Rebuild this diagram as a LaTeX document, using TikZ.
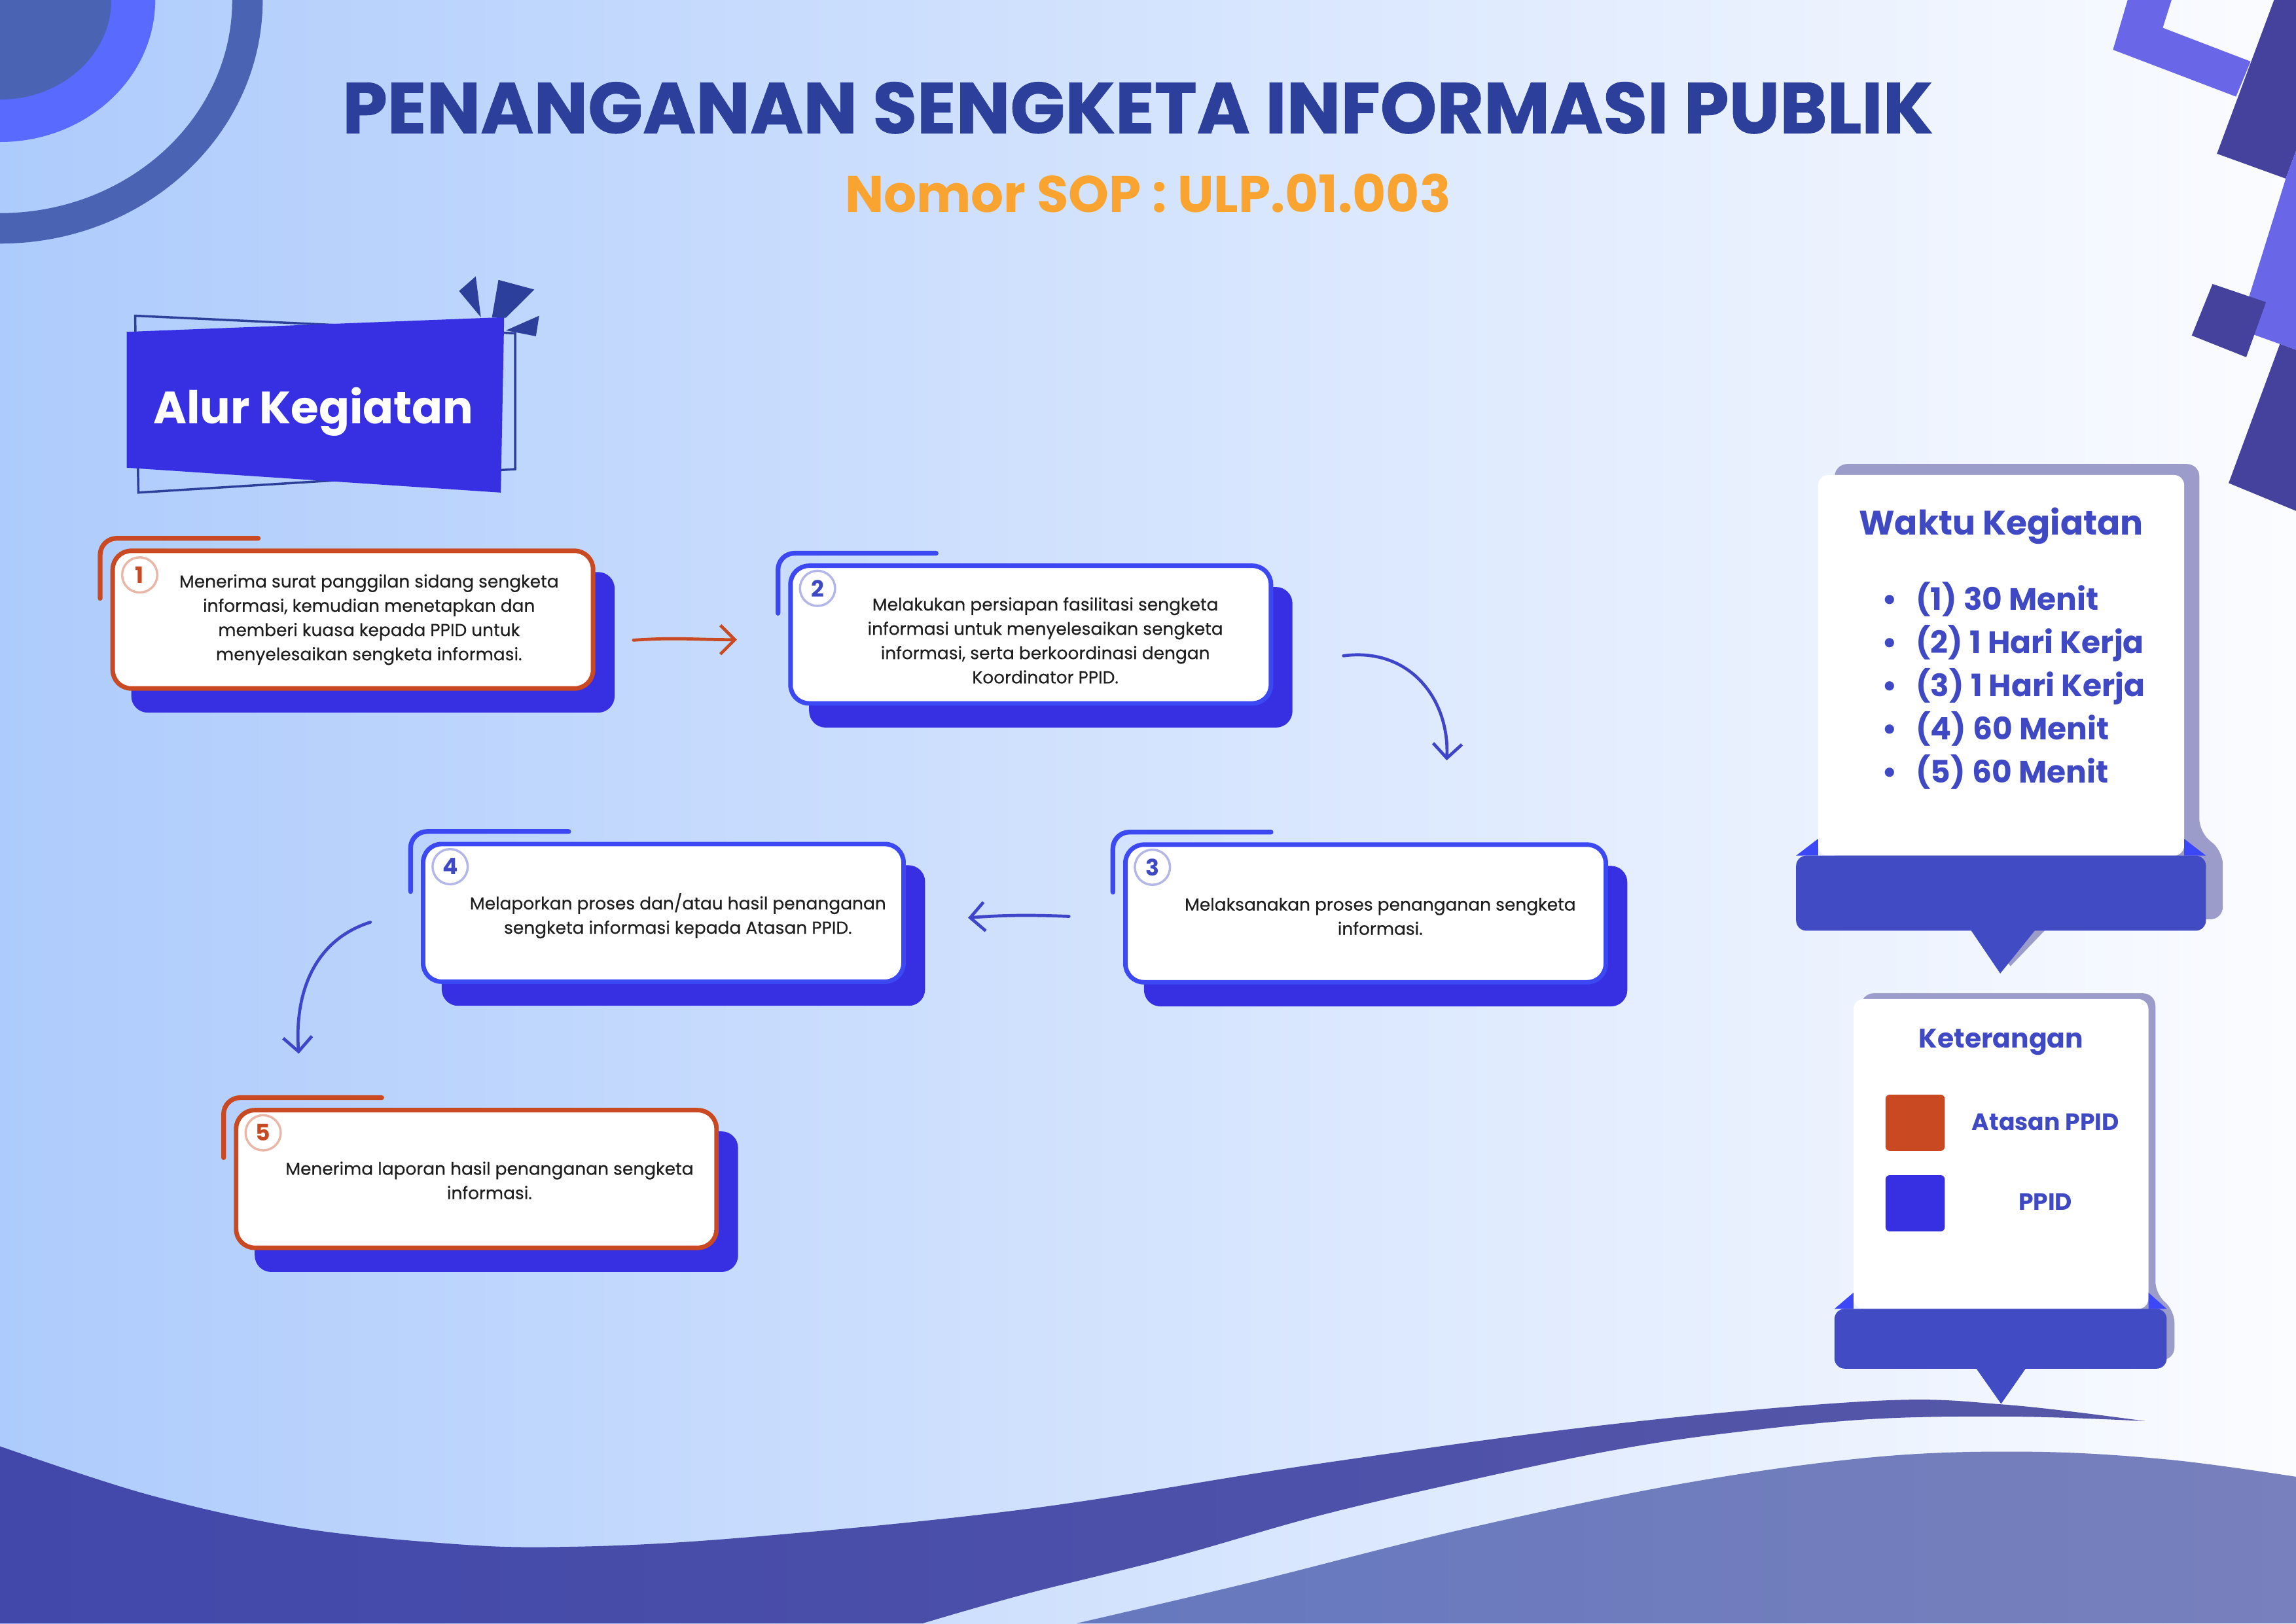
\documentclass[tikz,border=0pt]{standalone}
\usepackage{fontspec}
\setmainfont{Poppins}
\newfontfamily\heavyfont{Poppins}[BoldFeatures={FakeBold=0.8}]
\newfontfamily\stepfont{Poppins}[FakeBold=0.35]
\usetikzlibrary{arrows.meta,positioning,calc,shapes.geometric}
\definecolor{bgleft}{HTML}{ADCBFC}
\definecolor{bgmid}{HTML}{C8DCFC}
\definecolor{bgright}{HTML}{FBFCFF}
\definecolor{titleblue}{HTML}{2B3F9B}
\definecolor{soporange}{HTML}{F9A430}
\definecolor{ppidblue}{HTML}{3730E3}
\definecolor{cardblue}{HTML}{3C48F2}
\definecolor{atasanorange}{HTML}{C94A22}
\definecolor{arrowblue}{HTML}{3F45C8}
\definecolor{panelblue}{HTML}{414BC4}
\definecolor{panelbright}{HTML}{3C48F8}
\definecolor{panelgray}{HTML}{9C9CCB}
\definecolor{panelink}{HTML}{4049C4}
\definecolor{inkdark}{HTML}{1E1E1E}
\definecolor{cornerdark}{HTML}{4A63B3}
\definecolor{cornerbright}{HTML}{586AFF}
\definecolor{decodark}{HTML}{45429E}
\definecolor{decolight}{HTML}{6A66E8}
\definecolor{waveAL}{HTML}{4148AA}
\definecolor{waveAR}{HTML}{5657A8}
\definecolor{waveBL}{HTML}{6678BE}
\definecolor{waveBR}{HTML}{7880BD}

\tikzset{
  stepcard/.style={draw=#1,fill=white,line width=2.2pt,rounded corners=9pt,minimum width=8.2cm,minimum height=2.35cm,inner sep=0pt},
  stepshadow/.style={fill=ppidblue,rounded corners=8pt,minimum width=8.25cm,minimum height=2.4cm,inner sep=0pt},
  steptext/.style={align=center,text=inkdark,font=\stepfont\fontsize{8.4}{11.8}\selectfont},
  stepnum/.style={circle,draw=#1!40,line width=1.1pt,text=#1,minimum size=0.6cm,inner sep=0pt,font=\bfseries\fontsize{11}{11}\selectfont},
  cornerline/.style={line width=2.3pt,line cap=round,rounded corners=8pt},
  flowarrow/.style={line width=1.5pt,line cap=round,-{Straight Barb[length=7pt,width=14pt]}},
  panelcard/.style={fill=white,rounded corners=5pt,inner sep=0pt},
  legendkey/.style={rounded corners=2pt,minimum width=1.01cm,minimum height=0.96cm,inner sep=0pt},
  paneltext/.style={text=panelink,anchor=base},
}

\begin{document}
\begin{tikzpicture}[x=0.025cm,y=-0.025cm]
  \clip (0,0) rectangle (1568,1109);
  % background
  \shade[left color=bgleft,middle color=bgmid,right color=bgright] (0,0) rectangle (1568,1109);

  % corner decorations
  \fill[cornerbright] (0,0) ellipse [x radius=106,y radius=97];
  \fill[cornerdark] (0,0) ellipse [x radius=76,y radius=68];
  \draw[cornerdark,line width=0.52cm] (0,0) ellipse [x radius=169,y radius=156];
  \fill[decolight] (1443,34) -- (1453,0) -- (1483,0) -- (1477,19) -- (1537,42) -- (1527,66) -- cycle;
  \fill[decodark] (1553,0) -- (1568,0) -- (1568,103) -- (1561,122) -- (1514,105) -- cycle;
  \fill[decolight] (1561,122) -- (1568,103) -- (1568,239) -- (1557,235) -- (1529,225) -- cycle;
  \fill[decodark] (1511,194) -- (1547.5,206.4) -- (1534,244) -- (1496.8,229.2) -- cycle;
  \fill[decodark] (1557,235) -- (1568,239) -- (1568,349) -- (1522,330) -- cycle;

  % waves
  \shade[left color=waveAL,right color=waveAR] (0,1109) -- plot[smooth,tension=0.6] coordinates {(0,988) (100,1020.7) (200,1043) (300,1054) (380,1056.8) (500,1051) (700,1031) (900,1000) (1100,973) (1280,957) (1370,959.6) (1465,970.8)}
    -- plot[smooth,tension=0.6] coordinates {(1465,970.8) (1380,967.8) (1280,969.3) (1180,979) (1100,991) (1000,1012) (900,1035.6) (800,1064) (700,1089) (630,1109)} -- cycle;
  \shade[left color=waveBL,right color=waveBR] (735,1109) -- plot[smooth,tension=0.6] coordinates {(735,1109) (850,1082) (1000,1044.5) (1150,1013.3) (1280,995.4) (1385,991.7) (1480,997) (1568,1008.8)} -- (1568,1109) -- cycle;

  % title
  \node[anchor=base,text=titleblue,font=\heavyfont\bfseries\fontsize{35}{35}\selectfont] (title) at (777,91) {PENANGANAN SENGKETA INFORMASI PUBLIK};
  \node[anchor=base,text=soporange,font=\bfseries\fontsize{25}{25}\selectfont] (sop) at (784,145) {Nomor SOP : ULP.01.003};

  % banner
  \draw[titleblue,line width=1.1pt] (92.3,215.7) -- (351.8,227.7) -- (351.8,320.5) -- (94.5,336.5) -- cycle;
  \fill[ppidblue] (86.5,226.7) -- (344.3,216.7) -- (342,336.5) -- (86.5,319.5) -- cycle;
  \fill[titleblue] (313.5,198.8) -- (324.9,188.8) -- (328.4,216.7) -- cycle;
  \fill[titleblue] (340.4,191.2) -- (364.9,197.8) -- (345.5,217.1) -- (336,216.7) -- cycle;
  \fill[titleblue] (345.5,225.7) -- (368.2,215.7) -- (366,229.7) -- cycle;
  \node[anchor=base,text=white,font=\bfseries\fontsize{22}{22}\selectfont] (alur) at (214,289.6) {Alur Kegiatan};

  % step shadows
  \node[stepshadow] (s1sh) at (254.7,438.8) {};
  \node[stepshadow] (s2sh) at (717.6,449) {};
  \node[stepshadow] (s3sh) at (946.3,639.5) {};
  \node[stepshadow] (s4sh) at (466.7,639.1) {};
  \node[stepshadow] (s5sh) at (339,820.9) {};

  % step cards
  \node[stepcard=atasanorange] (s1) at (241,423.3) {};
  \node[stepcard=cardblue] (s2) at (703.9,433.5) {};
  \node[stepcard=cardblue] (s3) at (932.6,624) {};
  \node[stepcard=cardblue] (s4) at (453,623.6) {};
  \node[stepcard=atasanorange] (s5) at (325.3,805.4) {};

  \draw[cornerline,atasanorange] ($(s1.north west)+(-7,34)$) |- ($(s1.north west)+(101,-7)$);
  \draw[cornerline,cardblue] ($(s2.north west)+(-7,34)$) |- ($(s2.north west)+(101,-7)$);
  \draw[cornerline,cardblue] ($(s3.north west)+(-7,34)$) |- ($(s3.north west)+(101,-7)$);
  \draw[cornerline,cardblue] ($(s4.north west)+(-7,34)$) |- ($(s4.north west)+(101,-7)$);
  \draw[cornerline,atasanorange] ($(s5.north west)+(-7,34)$) |- ($(s5.north west)+(101,-7)$);

  \node[stepnum=atasanorange] (n1) at ($(s1.north west)+(20,18)$) {1};
  \node[stepnum=panelink] (n2) at ($(s2.north west)+(20,17)$) {2};
  \node[stepnum=panelink] (n3) at ($(s3.north west)+(20,17)$) {3};
  \node[stepnum=panelink] (n4) at ($(s4.north west)+(20,17)$) {4};
  \node[stepnum=atasanorange] (n5) at ($(s5.north west)+(20,17)$) {5};

  \node[steptext] (t1) at ($(s1.center)+(11,0)$) {Menerima surat panggilan sidang sengketa\\informasi, kemudian menetapkan dan\\memberi kuasa kepada PPID untuk\\menyelesaikan sengketa informasi.};
  \node[steptext] (t2) at ($(s2.center)+(10,4)$) {Melakukan persiapan fasilitasi sengketa\\informasi untuk menyelesaikan sengketa\\informasi, serta berkoordinasi dengan\\Koordinator PPID.};
  \node[steptext] (t3) at ($(s3.center)+(10,2)$) {Melaksanakan proses penanganan sengketa\\informasi.};
  \node[steptext] (t4) at ($(s4.center)+(10,2)$) {Melaporkan proses dan/atau hasil penanganan\\sengketa informasi kepada Atasan PPID.};
  \node[steptext] (t5) at ($(s5.center)+(9,1)$) {Menerima laporan hasil penanganan sengketa\\informasi.};

  % arrows
  \coordinate (a1s) at ($(s1.east)+(26,14)$);
  \coordinate (a1e) at ($(s2.west)+(-35,3.5)$);
  \coordinate (a2s) at ($(s2.east)+(48,14.5)$);
  \coordinate (a2e) at ($(s3.north)+(55.4,-56)$);
  \coordinate (a3s) at ($(s3.west)+(-37,2)$);
  \coordinate (a3e) at ($(s4.east)+(42.5,3.4)$);
  \coordinate (a4s) at ($(s4.west)+(-34.5,6.4)$);
  \coordinate (a4e) at ($(s5.north)+(-121.3,-37)$);
  \draw[flowarrow,atasanorange] (a1s) .. controls +(30,-2) and +(-30,0) .. (a1e);
  \draw[flowarrow,arrowblue] (a2s) .. controls +(45,-6) and +(2,-42) .. (a2e);
  \draw[flowarrow,arrowblue] (a3s) .. controls +(-25,-1) and +(25,-2) .. (a3e);
  \draw[flowarrow,arrowblue] (a4s) .. controls +(-38,12) and +(-3,-42) .. (a4e);

  % waktu kegiatan panel
  \fill[panelgray,rounded corners=6pt] (1253,317) -- (1502,317) -- (1502,568) -- (1518,582) -- (1518,628) -- (1253,628) -- cycle;
  \fill[panelgray] (1352,634) -- (1398,634) -- (1373,660) -- cycle;
  \node[panelcard,minimum width=6.25cm,minimum height=6.5cm] (wk) at (1366.6,454.5) {};
  \fill[panelbright] (1226.6,584.5) -- (1241.6,573) -- (1241.6,584.5) -- cycle;
  \fill[panelbright] (1491.6,573) -- (1506.5,584.5) -- (1491.6,584.5) -- cycle;
  \fill[panelblue,rounded corners=5pt] (1226.6,584.5) rectangle (1506.5,635.8);
  \fill[panelblue] (1345,634) -- (1391,634) -- (1366,665) -- cycle;
  \node[paneltext,font=\bfseries\fontsize{16.5}{16.5}\selectfont] (wkt) at (1366.6,365.6) {Waktu Kegiatan};
  \node[paneltext,anchor=base west,font=\bfseries\fontsize{15}{21}\selectfont,inner sep=0pt] (wkl) at (1285,416.9) {%
    \begin{tabular}[t]{@{}l@{\hspace{9pt}}l@{}}
      • & (1) 30 Menit\\
      • & (2) 1 Hari Kerja\\
      • & (3) 1 Hari Kerja\\
      • & (4) 60 Menit\\
      • & (5) 60 Menit
    \end{tabular}};

  % keterangan panel
  \fill[panelgray,rounded corners=6pt] (1271,678.6) -- (1472,678.6) -- (1472,884) -- (1485,895) -- (1485,929) -- (1271,929) -- cycle;
  \node[panelcard,minimum width=5.035cm,minimum height=5.29cm] (kt) at (1366.5,788.3) {};
  \fill[panelbright] (1252.8,894.1) -- (1265.8,883) -- (1265.8,894.1) -- cycle;
  \fill[panelbright] (1467.2,883) -- (1479.7,894.1) -- (1467.2,894.1) -- cycle;
  \fill[panelblue,rounded corners=5pt] (1252.8,894.1) rectangle (1479.7,935);
  \fill[panelblue] (1349,934) -- (1384,934) -- (1366.6,959) -- cycle;
  \node[paneltext,font=\bfseries\fontsize{13}{13}\selectfont] (ktt) at (1366.6,715.9) {Keterangan};
  \node[legendkey,fill=atasanorange] (k1) at (1307.9,767) {};
  \node[legendkey,fill=ppidblue] (k2) at (1307.9,822) {};
  \node[paneltext,font=\bfseries\fontsize{11.5}{11.5}\selectfont] (k1t) at (1396.9,772) {Atasan PPID};
  \node[paneltext,font=\bfseries\fontsize{11.5}{11.5}\selectfont] (k2t) at (1396.9,826.8) {PPID};
\end{tikzpicture}
\end{document}
